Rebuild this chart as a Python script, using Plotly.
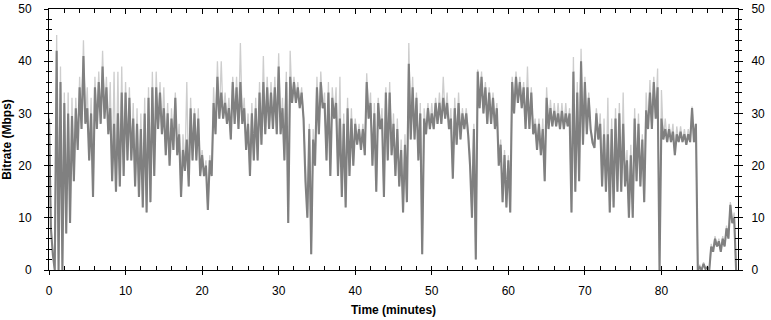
import plotly.graph_objects as go

# Sample times (minutes), one sample every half minute
minutes = [i * 0.5 for i in range(180)]

# Upper edge of the dark (main) trace, Mbps
band_high = [
    29, 3, 42, 36, 32, 30, 29.5, 31, 35, 41,
    31, 30, 35, 36, 39, 35, 31, 28, 30, 34,
    34, 33, 29, 28, 27, 30, 33, 35, 35, 34,
    31, 30, 29, 33, 26, 23, 25, 31, 30, 29,
    22, 20, 21, 32, 37, 34, 32, 31, 36, 35,
    36, 31, 28, 30, 31, 34, 36, 35, 34, 35,
    39, 31, 36, 37, 36, 35, 34, 17, 27, 25,
    35, 36, 32, 34, 33, 32, 29, 28, 31, 29,
    28, 27, 27, 36, 32, 30, 32, 29, 34, 34,
    28, 27, 23, 24, 39.5, 35, 33, 30, 29, 31,
    30, 32, 32, 33, 32, 29, 31, 32, 30, 30,
    20, 27, 38, 37, 35, 34, 33, 31, 24, 22,
    21, 36, 37, 36, 35, 35, 34, 28, 28, 27,
    33, 31, 30.5, 30, 30.5, 30, 30, 38, 34, 40,
    36, 33, 24.4, 30, 28, 26, 26, 27, 29, 30,
    28, 21, 22, 29, 28, 25, 30.6, 34, 36, 35,
    29, 27, 27, 26.5, 26, 26.5, 26, 26, 31, 28,
    0.5, 1.2, 0.5, 4.5, 6, 5.5, 6, 8, 12.5, 10,
]

# Lower edge of the dark trace, Mbps
band_low = [
    8, 0, 0, 0, 7, 9, 17, 23, 27, 28,
    21, 14, 27, 28, 29, 26, 17, 15, 16, 18,
    21, 21, 16, 14, 12, 11, 13, 18, 27, 26,
    22, 20, 23, 22, 14, 19, 16, 21, 21, 18,
    18, 11.5, 18, 26, 29, 29, 28, 25, 28, 27,
    28, 23, 18, 21, 21, 24, 26, 27, 27, 26,
    26, 21, 9, 32, 32, 31, 29, 10, 3, 20,
    26, 31, 21, 18, 29, 18, 14, 12, 18, 20,
    24, 23, 22, 29, 20, 15, 27, 14, 21, 22,
    18, 16, 11, 13, 25, 25, 21, 3, 26, 27,
    27, 28, 28, 29, 27, 17.5, 24, 25, 27, 26,
    10, 2, 31, 30, 28, 28, 27, 20, 13, 12,
    11, 30, 32, 31, 27, 27, 26, 23, 22, 17,
    27, 27.5, 27.5, 27, 27, 27.5, 11, 15, 17, 24,
    26, 27, 23.4, 25, 16, 15, 11, 12, 15, 15,
    16, 10, 10, 17, 16, 13, 27, 27, 29, 0,
    25, 24.5, 24.5, 22, 24.5, 24.5, 24, 24.5, 24.5, 0,
    0, 0.2, 0, 3.5, 4.5, 3.5, 4.5, 6, 9, 0,
]

# Peak values (light grey trace), Mbps
peak = [
    30, 3, 45, 39, 34, 34, 33, 33, 37, 44,
    35, 33, 37, 38, 42, 37, 36, 38, 38, 39,
    36, 35, 32, 31, 30, 33, 35, 38, 38, 36,
    35, 32, 31, 34, 28, 26, 36, 33, 31, 31,
    23, 21, 22, 35, 40, 40, 34, 33, 37, 37,
    43.5, 33, 30, 32, 33, 36, 41, 37, 36, 37,
    41.5, 33, 38, 42, 37, 36, 35, 20, 28, 27,
    37, 38, 34, 36, 35, 35, 37, 30, 33, 31,
    29, 28, 28, 37.7, 34, 32, 33, 31, 35, 36,
    30, 29, 25, 26, 43.5, 37, 34, 32, 31, 32,
    32, 33, 34, 37, 34, 31, 33, 34, 31, 31,
    22, 28, 38.4, 38, 36, 35, 34, 32, 25, 23,
    22, 37, 38, 37, 36, 39, 35, 29, 29, 29,
    35, 32.6, 32, 32, 32, 32, 31, 40.8, 36, 42.4,
    37, 34, 25, 31, 30, 29, 33, 29, 31, 32,
    34, 23, 24, 31, 30, 26, 34, 36.4, 37, 38.6,
    34.5, 29, 28, 28, 27.5, 27.5, 27, 27, 31.3, 28,
    1, 1.5, 0.8, 5, 6.5, 6, 6.5, 8.5, 13, 11,
]

x_ticks = [0, 10, 20, 30, 40, 50, 60, 70, 80]
y_ticks = [0, 10, 20, 30, 40, 50]

assert len(minutes) == len(band_high) == len(band_low) == len(peak)

xs, dark, light = [], [], []
for t, h, l, p in zip(minutes, band_high, band_low, peak):
    xs += [t, t + 0.25]
    dark += [h, l]
    light += [p, l]

FONT = "Liberation Sans, Arial, sans-serif"

fig = go.Figure()
fig.add_trace(go.Scatter(x=xs, y=light, mode="lines",
                         line=dict(color="#cdcdcd", width=1.3), hoverinfo="skip",
                         showlegend=False))
fig.add_trace(go.Scatter(x=xs, y=dark, mode="lines",
                         line=dict(color="#808080", width=2.1), hoverinfo="skip",
                         showlegend=False))
# empty traces so the overlay axes are drawn
for xa, ya in [("x2", "y2"), ("x3", "y3"), ("x4", "y4")]:
    fig.add_trace(go.Scatter(x=[None], y=[None], xaxis=xa, yaxis=ya,
                             showlegend=False, hoverinfo="skip"))

tickfont = dict(family=FONT, size=12, color="black")


def xax(**kw):
    d = dict(range=[0, 90], showgrid=False, zeroline=False, showline=True,
             linecolor="black", linewidth=1, tickvals=x_ticks, tickcolor="black",
             fixedrange=True, automargin=False)
    d.update(kw)
    return d


def yax(**kw):
    d = dict(range=[0, 50], showgrid=False, zeroline=False, showline=True,
             linecolor="black", linewidth=1, tickvals=y_ticks, tickcolor="black",
             fixedrange=True, automargin=False)
    d.update(kw)
    return d


fig.update_layout(
    width=771, height=320,
    margin=dict(l=49, r=33, t=9, b=50),
    paper_bgcolor="white", plot_bgcolor="white",
    xaxis=xax(side="bottom", anchor="y", ticks="outside", ticklen=4,
              tickfont=tickfont, ticklabelstandoff=6,
              title=dict(text="<b>Time (minutes)</b>", standoff=8,
                         font=dict(family=FONT, size=12, color="black"))),
    yaxis=yax(side="left", anchor="x", ticks="outside", ticklen=4,
              tickfont=tickfont, ticklabelstandoff=10,
              minor=dict(dtick=2, ticks="outside", ticklen=2, tickcolor="black"),
              title=dict(text="<b>Bitrate (Mbps)</b>", standoff=6,
                         font=dict(family=FONT, size=12, color="black"))),
    xaxis2=xax(overlaying="x", side="bottom", anchor="y2", ticks="inside",
               ticklen=4, showticklabels=False,
               minor=dict(dtick=2, ticks="inside", ticklen=4, tickcolor="black")),
    yaxis2=yax(overlaying="y", side="left", anchor="x2", ticks="inside",
               ticklen=4, showticklabels=False,
               minor=dict(dtick=2, ticks="inside", ticklen=3, tickcolor="black")),
    xaxis3=xax(overlaying="x", side="top", anchor="y3", ticks="inside",
               ticklen=5, showticklabels=False,
               minor=dict(dtick=2, ticks="inside", ticklen=4, tickcolor="black")),
    yaxis3=yax(overlaying="y", side="right", anchor="x3", ticks="outside",
               ticklen=4, tickfont=tickfont, ticklabelstandoff=6,
               minor=dict(dtick=2, ticks="outside", ticklen=3, tickcolor="black")),
    xaxis4=xax(overlaying="x", side="top", anchor="y4", ticks="",
               showticklabels=False, showline=False),
    yaxis4=yax(overlaying="y", side="right", anchor="x4", ticks="inside",
               ticklen=4, showticklabels=False,
               minor=dict(dtick=2, ticks="inside", ticklen=3, tickcolor="black")),
)

fig.write_html("out.html",
               config={"displayModeBar": False},
               post_script="document.body.style.margin='0';"
                           "document.body.style.overflow='hidden';")
